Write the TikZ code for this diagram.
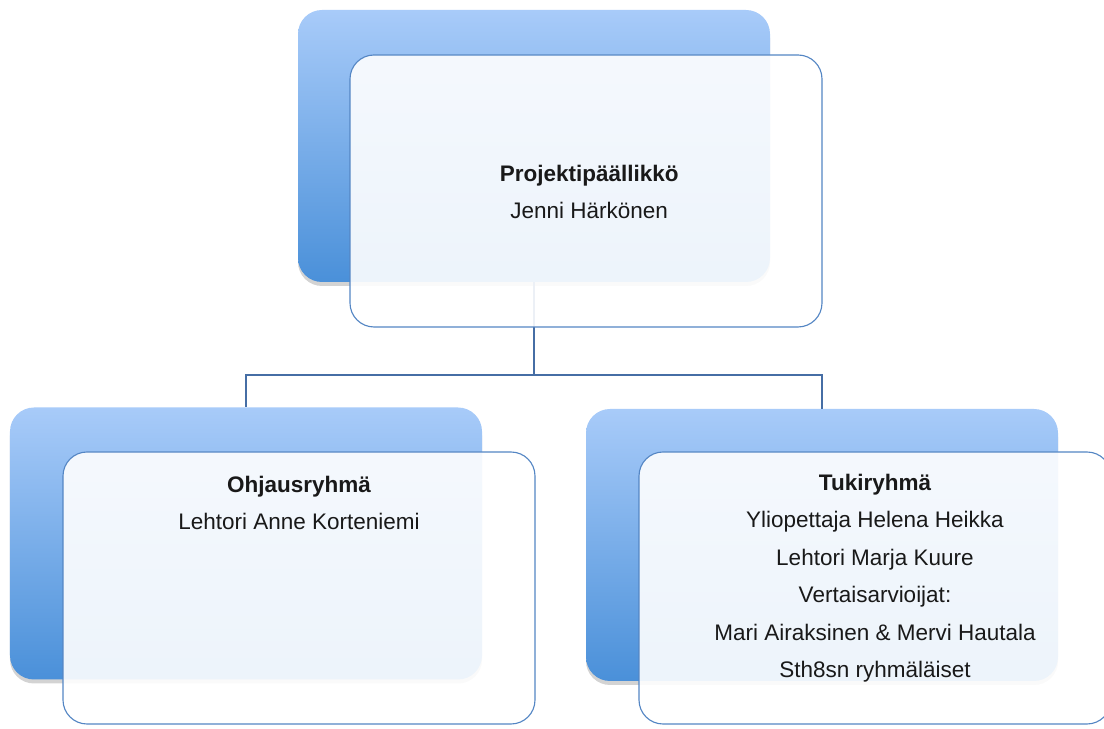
\documentclass[tikz,border=0pt]{standalone}
\usepackage{fontspec}
\setmainfont{Liberation Sans}
\usepackage{xcolor}
\usepackage{tikz}
\usetikzlibrary{shadows}

\definecolor{boxtop}{RGB}{168,203,249}
\definecolor{boxbottom}{RGB}{74,144,217}
\definecolor{boxedge}{RGB}{84,134,196}
\definecolor{linkblue}{RGB}{70,110,165}

\begin{document}
\begin{tikzpicture}[backbox/.style = {shape=rectangle, rounded corners=0.6cm, top color=boxtop, bottom color=boxbottom, minimum width=11.8cm, minimum height=6.8cm, drop shadow={shadow xshift=0pt, shadow yshift=-0.1cm, opacity=0.35}}, frontbox/.style = {shape=rectangle, rounded corners=0.6cm, draw=boxedge, line width=0.8pt, fill=white, fill opacity=0.9, minimum width=11.8cm, minimum height=6.8cm}, boxtext/.style = {align=center, inner sep=0pt, text=black!90, font=\fontsize{16}{26.7}\selectfont}, link/.style = {draw=linkblue, line width=0.8pt}]

\useasboundingbox (0,0) rectangle (27.6,18.225);

\node[backbox] (pmBack) at (13.35,14.575) {};
\node[backbox] (steerBack) at (6.15,4.6375) {};
\node[backbox] (supportBack) at (20.55,4.6) {};

\coordinate (split) at (13.35,8.85);
\draw[link] (pmBack.south) -- (split);
\draw[link] (split) -| (steerBack.north);
\draw[link] (split) -| (supportBack.north);

\node[frontbox] (pmFront) at (14.65,13.45) {};
\node[frontbox] (steerFront) at (7.475,3.525) {};
\node[frontbox] (supportFront) at (21.875,3.525) {};

\node[boxtext, anchor=north] (pmText) at ([xshift=0.08cm, yshift=-2.75cm]pmFront.north) {\textbf{Projektipäällikkö}\\Jenni Härkönen};
\node[boxtext, anchor=north] (steerText) at ([yshift=-0.6cm]steerFront.north) {\textbf{Ohjausryhmä}\\Lehtori Anne Korteniemi};
\node[boxtext, anchor=north] (supportText) at ([yshift=-0.55cm]supportFront.north) {\textbf{Tukiryhmä}\\Yliopettaja Helena Heikka\\Lehtori Marja Kuure\\Vertaisarvioijat:\\Mari Airaksinen \& Mervi Hautala\\Sth8sn ryhmäläiset};
\end{tikzpicture}
\end{document}
